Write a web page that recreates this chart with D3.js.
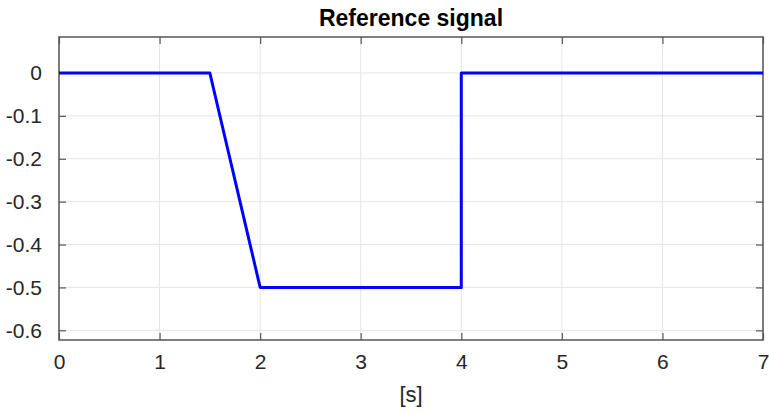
<!DOCTYPE html>
<html><head><meta charset="utf-8">
<script src="https://cdn.jsdelivr.net/npm/d3@7"></script>
<style>body{margin:0;background:#fff}svg{display:block}</style>
</head><body>
<svg id="c" width="769" height="412"></svg>
<script>
const timeS = [0, 1.5, 2, 4, 4, 7];
const refValues = [0, 0, -0.5, -0.5, 0, 0];
const xTicks = [0, 1, 2, 3, 4, 5, 6, 7];
const yTicks = [0, -0.1, -0.2, -0.3, -0.4, -0.5, -0.6];
const titleText = "Reference signal";
const xLabelText = "[s]";

const svg = d3.select("#c");
const L = 59, R = 763, T = 37, B = 340;
const x = d3.scaleLinear().domain([0, 7]).range([L, R]);
const y = d3.scaleLinear().domain([-0.6226, 0.0839]).range([B, T]);
const font = "'Liberation Sans', Arial, sans-serif";
const axisCol = "#555", gridCol = "#e5e5e5", txtCol = "#262626";

// grid
svg.append("g").selectAll("line").data(xTicks).join("line")
  .attr("x1", d => x(d)).attr("x2", d => x(d)).attr("y1", T).attr("y2", B)
  .attr("stroke", gridCol).attr("stroke-width", 1);
svg.append("g").selectAll("line").data(yTicks).join("line")
  .attr("y1", d => y(d)).attr("y2", d => y(d)).attr("x1", L).attr("x2", R)
  .attr("stroke", gridCol).attr("stroke-width", 1);

// axes with inner ticks
const tk = 7;
const fmtX = d => String(d);
const fmtY = d => d === 0 ? "0" : d.toFixed(1);
const gx = svg.append("g").attr("transform", `translate(0,${B})`)
  .call(d3.axisBottom(x).tickValues(xTicks).tickSizeInner(-tk).tickSizeOuter(0).tickPadding(14).tickFormat(fmtX));
const gxt = svg.append("g").attr("transform", `translate(0,${T})`)
  .call(d3.axisTop(x).tickValues(xTicks).tickSizeInner(-tk).tickSizeOuter(0).tickFormat(""));
const gy = svg.append("g").attr("transform", `translate(${L},0)`)
  .call(d3.axisLeft(y).tickValues(yTicks).tickSizeInner(-tk).tickSizeOuter(0).tickPadding(17).tickFormat(fmtY));
const gyr = svg.append("g").attr("transform", `translate(${R},0)`)
  .call(d3.axisRight(y).tickValues(yTicks).tickSizeInner(-tk).tickSizeOuter(0).tickFormat(""));
[gx, gxt, gy, gyr].forEach(g => {
  g.selectAll(".tick line").attr("stroke", axisCol).attr("stroke-width", 1.2);
  g.selectAll("text").attr("fill", txtCol).style("font-family", font).style("font-size", "21px");
  g.selectAll(".domain").remove();
});
svg.append("rect").attr("x", L).attr("y", T).attr("width", R - L).attr("height", B - T)
  .attr("fill", "none").attr("stroke", axisCol).attr("stroke-width", 1.5);

// line
const line = d3.line().x((d, i) => x(timeS[i])).y(d => y(d));
svg.append("path").datum(refValues).attr("d", line)
  .attr("fill", "none").attr("stroke", "#0000ff").attr("stroke-width", 3).attr("stroke-linejoin", "round");

// title & label
svg.append("text").attr("x", (L + R) / 2).attr("y", 26).attr("text-anchor", "middle")
  .style("font-family", font).style("font-size", "23px").style("font-weight", "bold").attr("fill", "#000")
  .text(titleText);
svg.append("text").attr("x", (L + R) / 2).attr("y", 402).attr("text-anchor", "middle")
  .style("font-family", font).style("font-size", "22px").attr("fill", txtCol)
  .text(xLabelText);
</script>
</body></html>
